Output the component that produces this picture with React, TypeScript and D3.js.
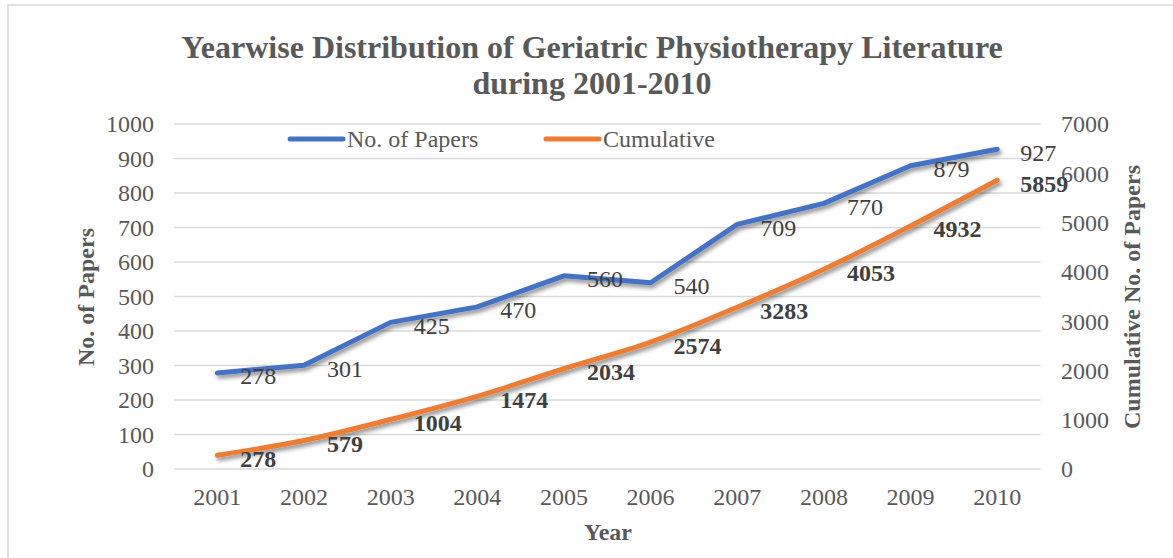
import * as d3 from "d3";

const years = ["2001", "2002", "2003", "2004", "2005", "2006", "2007", "2008", "2009", "2010"];
const papers = [278, 301, 425, 470, 560, 540, 709, 770, 879, 927];
const cumulative = [278, 579, 1004, 1474, 2034, 2574, 3283, 4053, 4932, 5859];
const leftTicks = [0, 100, 200, 300, 400, 500, 600, 700, 800, 900, 1000];
const rightTicks = [0, 1000, 2000, 3000, 4000, 5000, 6000, 7000];

const W = 1173;
const H = 558;
const FONT = "'Liberation Serif', 'Times New Roman', serif";
const BLUE = "#4472C4";
const ORANGE = "#ED7D31";
const FS = 24;

export default function App() {
  const x = d3.scaleBand().domain(years).range([174, 1040.5]);
  const yL = d3.scaleLinear().domain([0, 1000]).range([469, 124]);
  const yR = d3.scaleLinear().domain([0, 7000]).range([469, 124]);
  const cx = (d: string) => (x(d) as number) + x.bandwidth() / 2;

  const paperLine = d3
    .line<number>()
    .x((_, i) => cx(years[i]))
    .y((d) => yL(d));
  const cumLine = d3
    .line<number>()
    .x((_, i) => cx(years[i]))
    .y((d) => yR(d))
    .curve(d3.curveCatmullRom.alpha(0.5));

  return (
    <svg
      width={W}
      height={H}
      style={{ position: "absolute", left: 0, top: 0, fontFamily: FONT }}
    >
      <defs>
        <filter id="shadow" x="-10%" y="-10%" width="120%" height="130%">
          <feDropShadow dx="2" dy="3" stdDeviation="2" floodColor="#000" floodOpacity="0.45" />
        </filter>
      </defs>
      <rect x={0} y={0} width={W} height={H} fill="#fff" />
      <rect x={8} y={5} width={W + 20} height={H + 20} fill="none" stroke="#d9d9d9" strokeWidth={1.5} />

      {/* title */}
      <text x={592} y={58} textAnchor="middle" fontSize={32} fontWeight="bold" fill="#595959">
        Yearwise Distribution of Geriatric Physiotherapy Literature
      </text>
      <text x={592} y={94} textAnchor="middle" fontSize={32} fontWeight="bold" fill="#595959">
        during 2001-2010
      </text>

      {/* gridlines */}
      {leftTicks.map((t) => (
        <line key={t} x1={174} x2={1040.5} y1={yL(t)} y2={yL(t)} stroke="#d9d9d9" strokeWidth={1.5} />
      ))}

      {/* left ticks */}
      {leftTicks.map((t) => (
        <text key={t} x={154} y={yL(t)} dy="0.35em" textAnchor="end" fontSize={FS} fill="#595959">
          {t}
        </text>
      ))}
      {/* right ticks */}
      {rightTicks.map((t) => (
        <text key={t} x={1061} y={yR(t)} dy="0.35em" textAnchor="start" fontSize={FS} fill="#595959">
          {t}
        </text>
      ))}
      {/* x ticks */}
      {years.map((yr) => (
        <text key={yr} x={cx(yr)} y={505} textAnchor="middle" fontSize={FS} fill="#595959">
          {yr}
        </text>
      ))}

      {/* axis titles */}
      <text x={608} y={540} textAnchor="middle" fontSize={FS} fontWeight="bold" fill="#595959">
        Year
      </text>
      <text
        transform="translate(94,297) rotate(-90)"
        textAnchor="middle"
        fontSize={FS}
        fontWeight="bold"
        fill="#595959"
      >
        No. of Papers
      </text>
      <text
        transform="translate(1140,297) rotate(-90)"
        textAnchor="middle"
        fontSize={FS}
        fontWeight="bold"
        fill="#595959"
      >
        Cumulative No. of Papers
      </text>

      {/* lines */}
      <path d={paperLine(papers) || ""} fill="none" stroke={BLUE} strokeWidth={5} strokeLinecap="round" strokeLinejoin="round" filter="url(#shadow)" />
      <path d={cumLine(cumulative) || ""} fill="none" stroke={ORANGE} strokeWidth={5} strokeLinecap="round" strokeLinejoin="round" filter="url(#shadow)" />

      {/* data labels */}
      {papers.map((v, i) => (
        <text key={"p" + i} x={cx(years[i]) + 23} y={yL(v) + 3} dy="0.35em" fontSize={FS} fill="#404040">
          {v}
        </text>
      ))}
      {cumulative.map((v, i) => (
        <text key={"c" + i} x={cx(years[i]) + 23} y={yR(v) + 3} dy="0.35em" fontSize={FS} fontWeight="bold" fill="#404040">
          {v}
        </text>
      ))}

      {/* legend */}
      <line x1={290} x2={343} y1={139} y2={139} stroke={BLUE} strokeWidth={5} strokeLinecap="round" />
      <text x={347} y={139} dy="0.35em" fontSize={FS} fill="#595959">
        No. of Papers
      </text>
      <line x1={546} x2={599} y1={139} y2={139} stroke={ORANGE} strokeWidth={5} strokeLinecap="round" />
      <text x={603} y={139} dy="0.35em" fontSize={FS} fill="#595959">
        Cumulative
      </text>
    </svg>
  );
}
